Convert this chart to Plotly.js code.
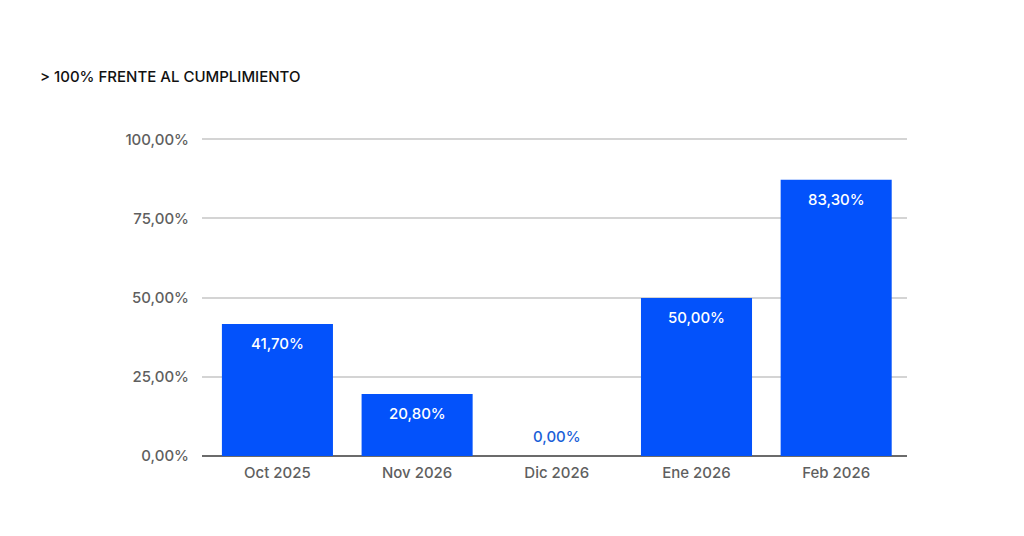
<!DOCTYPE html>
<html>
<head>
<meta charset="utf-8">
<script src="https://cdn.plot.ly/plotly-3.0.1.min.js"></script>
<style>
  html, body { margin: 0; padding: 0; background: #fff; }
  #chart { width: 1024px; height: 536px; }
</style>
</head>
<body>
<div id="chart"></div>
<script>
var months = ['Oct 2025', 'Nov 2026', 'Dic 2026', 'Ene 2026', 'Feb 2026'];
// bar heights as drawn in the picture
var values = [41.7, 19.6, 0, 49.9, 87.2];
// labels as printed on the bars
var labels = ['41,70%', '20,80%', '0,00%', '50,00%', '83,30%'];
var yTicks = [0, 25, 50, 75, 100];
var yTickText = ['0,00%', '25,00%', '50,00%', '75,00%', '100,00%'];

var blue = '#0352fb';

var bars = {
  type: 'bar',
  x: months,
  y: values,
  marker: {color: blue},
  hoverinfo: 'skip'
};

var notes = [];
for (var i = 0; i < months.length; i++) {
  notes.push({
    x: months[i],
    y: values[i],
    xref: 'x',
    yref: 'y',
    text: labels[i],
    showarrow: false,
    yshift: values[i] > 0 ? -20 : 20,
    font: {family: 'Inter, sans-serif', size: 15, weight: 500,
           color: values[i] > 0 ? '#ffffff' : '#1a5fd8'}
  });
}

var layout = {
  width: 1024,
  height: 536,
  paper_bgcolor: '#ffffff',
  plot_bgcolor: '#ffffff',
  margin: {l: 202, r: 117, t: 138, b: 80},
  showlegend: false,
  bargap: 0.205,
  font: {family: 'Inter, sans-serif', size: 15, color: '#5f5f5f'},
  title: {
    text: '> 100% FRENTE AL CUMPLIMIENTO',
    x: 40 / 1024,
    xanchor: 'left',
    y: 1 - 77 / 536,
    yanchor: 'middle',
    font: {family: 'Inter, sans-serif', size: 15, color: '#111111', weight: 500}
  },
  xaxis: {
    type: 'category',
    range: [-0.54, 4.507],
    showgrid: false,
    showline: false,
    ticks: '',
    ticklabelstandoff: 6,
    tickfont: {size: 15, weight: 500, color: '#5f5f5f'}
  },
  yaxis: {
    range: [0, 100.4],
    tickvals: yTicks,
    ticktext: yTickText,
    showgrid: true,
    gridcolor: '#d4d4d4',
    gridwidth: 2,
    zeroline: true,
    zerolinecolor: '#6b6b6b',
    zerolinewidth: 2,
    ticks: '',
    ticklabelstandoff: 12,
    tickfont: {size: 15, weight: 500, color: '#5f5f5f'}
  },
  annotations: notes
};

Plotly.newPlot('chart', [bars], layout, {displayModeBar: false, staticPlot: true});
</script>
</body>
</html>
